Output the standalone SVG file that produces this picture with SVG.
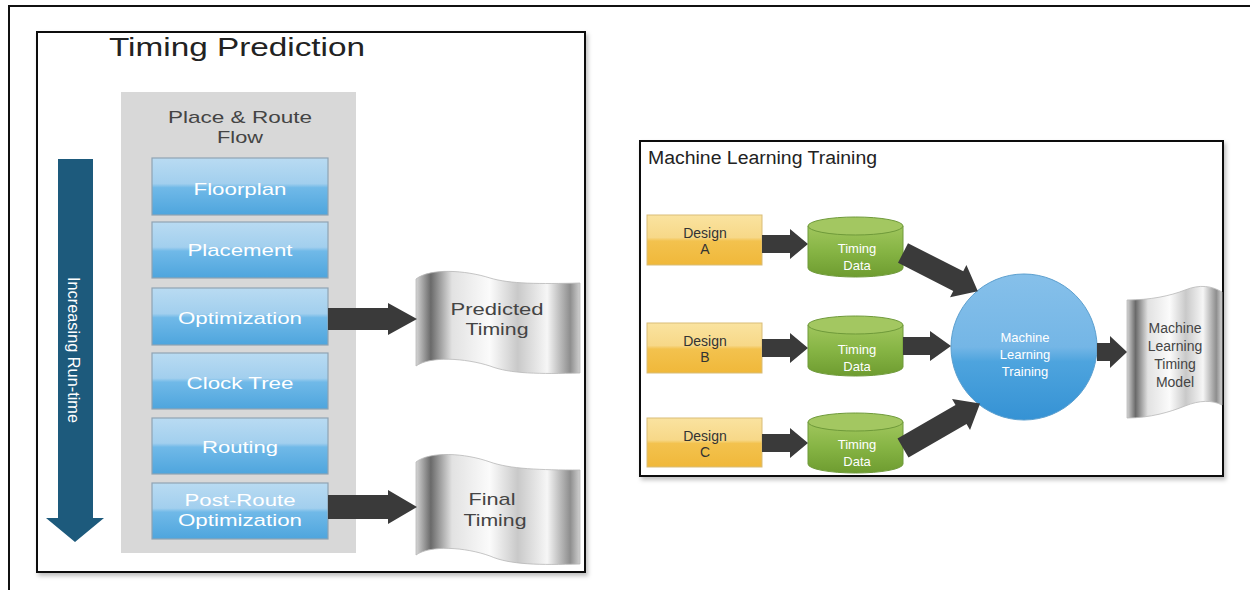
<svg xmlns="http://www.w3.org/2000/svg" width="1250" height="590" viewBox="0 0 1250 590">
<defs>
<style>
.t{font-family:"Liberation Sans",Arial,sans-serif}
.frame{fill:#fff;stroke:#111;stroke-width:2}
.step{fill:url(#gBlue);stroke:#8fa3b3;stroke-width:1.2}
.stepT{font-family:"Liberation Sans",Arial,sans-serif;font-size:17px;fill:#fff;text-anchor:middle}
.flag{fill:url(#gMetal);stroke:#b8b8b8;stroke-width:0.8}
.flagT{font-family:"Liberation Sans",Arial,sans-serif;fill:#444;text-anchor:middle}
.design{fill:url(#gYellow);stroke:#d9bd78;stroke-width:1}
.designT{font-family:"Liberation Sans",Arial,sans-serif;font-size:14px;fill:#333;text-anchor:middle}
.cylB{fill:url(#gGreen);stroke:#6f9a3a;stroke-width:1}
.cylT{fill:#a3c761;stroke:#6f9a3a;stroke-width:1}
.cylTxt{font-family:"Liberation Sans",Arial,sans-serif;font-size:13px;fill:#fff;text-anchor:middle}
.conn{fill:#3a3a3a}
</style>
<linearGradient id="gBlue" x1="0" y1="0" x2="0" y2="1">
<stop offset="0" stop-color="#b9dbf2"/>
<stop offset="0.45" stop-color="#a2cfee"/>
<stop offset="0.52" stop-color="#70b9e8"/>
<stop offset="1" stop-color="#4ea5dd"/>
</linearGradient>
<linearGradient id="gMetal" x1="0" y1="0" x2="1" y2="0">
<stop offset="0" stop-color="#d5d5d5"/>
<stop offset="0.09" stop-color="#6a6a6a"/>
<stop offset="0.22" stop-color="#e2e2e2"/>
<stop offset="0.45" stop-color="#fbfbfb"/>
<stop offset="0.62" stop-color="#c9c9c9"/>
<stop offset="0.8" stop-color="#f6f6f6"/>
<stop offset="0.94" stop-color="#8e8e8e"/>
<stop offset="1" stop-color="#cfcfcf"/>
</linearGradient>
<linearGradient id="gYellow" x1="0" y1="0" x2="0" y2="1">
<stop offset="0" stop-color="#fae3a0"/>
<stop offset="0.45" stop-color="#f7d888"/>
<stop offset="0.52" stop-color="#f3c24e"/>
<stop offset="1" stop-color="#f0b83a"/>
</linearGradient>
<linearGradient id="gGreen" x1="0" y1="0" x2="0" y2="1">
<stop offset="0" stop-color="#a0c65d"/>
<stop offset="0.5" stop-color="#86b444"/>
<stop offset="1" stop-color="#6e9c30"/>
</linearGradient>
<linearGradient id="gCircle" x1="0" y1="0" x2="0" y2="1">
<stop offset="0" stop-color="#86c0ea"/>
<stop offset="0.5" stop-color="#74b6e6"/>
<stop offset="0.6" stop-color="#4ea4de"/>
<stop offset="1" stop-color="#3592d4"/>
</linearGradient>
<filter id="sh" x="-5%" y="-5%" width="110%" height="110%">
<feDropShadow dx="2" dy="3" stdDeviation="2" flood-color="#000" flood-opacity="0.25"/>
</filter>
</defs>

<!-- outer frame -->
<g id="outer-frame">
<line x1="8" y1="6" x2="1250" y2="6" stroke="#111" stroke-width="2"/>
<line x1="9" y1="6" x2="9" y2="590" stroke="#111" stroke-width="2"/>
</g>

<!-- left panel -->
<g id="panel-timing-prediction">
<rect x="37" y="32" width="548" height="540" class="frame" filter="url(#sh)"/>
<text x="109" y="56" class="t" font-size="25" fill="#222" textLength="256" lengthAdjust="spacingAndGlyphs">Timing Prediction</text>
</g>

<g id="pr-flow">
<rect x="121" y="92" width="235" height="461" fill="#d8d8d8"/>
<text x="240" y="123" class="t" font-size="17" fill="#444" text-anchor="middle" textLength="144" lengthAdjust="spacingAndGlyphs">Place &amp; Route</text>
<text x="240" y="143" class="t" font-size="17" fill="#444" text-anchor="middle" textLength="46" lengthAdjust="spacingAndGlyphs">Flow</text>
</g>

<g id="runtime-arrow">
<polygon points="58,159 93,159 93,518 104,518 75,542 46,518 58,518" fill="#1d5a7c"/>
<text transform="translate(68,350) rotate(90)" class="t" font-size="17" fill="#fff" text-anchor="middle" textLength="146" lengthAdjust="spacingAndGlyphs">Increasing Run-time</text>
</g>

<g id="step-floorplan">
<rect x="152" y="158" width="176" height="57" class="step"/>
<text x="240" y="195" class="stepT" textLength="93" lengthAdjust="spacingAndGlyphs">Floorplan</text>
</g>
<g id="step-placement">
<rect x="152" y="222" width="176" height="56" class="step"/>
<text x="240" y="256" class="stepT" textLength="105" lengthAdjust="spacingAndGlyphs">Placement</text>
</g>
<g id="step-optimization">
<rect x="152" y="288" width="176" height="57" class="step"/>
<text x="240" y="324" class="stepT" textLength="124" lengthAdjust="spacingAndGlyphs">Optimization</text>
</g>
<g id="step-clock-tree">
<rect x="152" y="353" width="176" height="56" class="step"/>
<text x="240" y="389" class="stepT" textLength="107" lengthAdjust="spacingAndGlyphs">Clock Tree</text>
</g>
<g id="step-routing">
<rect x="152" y="418" width="176" height="56" class="step"/>
<text x="240" y="453" class="stepT" textLength="76" lengthAdjust="spacingAndGlyphs">Routing</text>
</g>
<g id="step-post-route">
<rect x="152" y="483" width="176" height="56" class="step"/>
<text x="240" y="506" class="stepT" textLength="111" lengthAdjust="spacingAndGlyphs">Post-Route</text>
<text x="240" y="526" class="stepT" textLength="124" lengthAdjust="spacingAndGlyphs">Optimization</text>
</g>

<g id="predicted-timing">
<path class="flag" d="M416,279 C430,268 465,270 490,278 C510,284 540,284 580,283 L580,373 C540,374 510,374 490,366 C465,358 430,356 416,366 Z"/>
<text x="497" y="315" class="flagT" font-size="17" textLength="93" lengthAdjust="spacingAndGlyphs">Predicted</text>
<text x="497" y="335" class="flagT" font-size="17" textLength="63" lengthAdjust="spacingAndGlyphs">Timing</text>
</g>
<g id="final-timing">
<path class="flag" d="M416,462 C430,451 465,453 490,462 C510,469 540,470 580,470 L580,564 C540,565 510,565 490,556 C465,547 430,545 416,555 Z"/>
<text x="492" y="505" class="flagT" font-size="17" textLength="47" lengthAdjust="spacingAndGlyphs">Final</text>
<text x="495" y="526" class="flagT" font-size="17" textLength="63" lengthAdjust="spacingAndGlyphs">Timing</text>
</g>

<!-- right panel -->
<g id="panel-ml-training">
<rect x="640" y="141" width="583" height="335" class="frame" filter="url(#sh)"/>
<text x="648" y="164" class="t" font-size="18" fill="#222" textLength="229" lengthAdjust="spacingAndGlyphs">Machine Learning Training</text>
</g>

<g id="design-a">
<rect x="647" y="215" width="115" height="50" class="design"/>
<text x="705" y="238" class="designT">Design</text>
<text x="705" y="254" class="designT">A</text>
</g>
<g id="design-b">
<rect x="647" y="323" width="115" height="50" class="design"/>
<text x="705" y="346" class="designT">Design</text>
<text x="705" y="362" class="designT">B</text>
</g>
<g id="design-c">
<rect x="647" y="418" width="115" height="49" class="design"/>
<text x="705" y="441" class="designT">Design</text>
<text x="705" y="457" class="designT">C</text>
</g>

<g id="data-a">
<path class="cylB" d="M808,226 L808,268 A47.5,9 0 0 0 903,268 L903,226 Z"/>
<ellipse cx="855.5" cy="226" rx="47.5" ry="9" class="cylT"/>
<text x="857" y="253" class="cylTxt">Timing</text>
<text x="857" y="270" class="cylTxt">Data</text>
</g>
<g id="data-b">
<path class="cylB" d="M808,325 L808,367 A47.5,9 0 0 0 903,367 L903,325 Z"/>
<ellipse cx="855.5" cy="325" rx="47.5" ry="9" class="cylT"/>
<text x="857" y="354" class="cylTxt">Timing</text>
<text x="857" y="371" class="cylTxt">Data</text>
</g>
<g id="data-c">
<path class="cylB" d="M808,422 L808,464 A47.5,9 0 0 0 903,464 L903,422 Z"/>
<ellipse cx="855.5" cy="422" rx="47.5" ry="9" class="cylT"/>
<text x="857" y="449" class="cylTxt">Timing</text>
<text x="857" y="466" class="cylTxt">Data</text>
</g>

<g id="ml-training">
<circle cx="1024" cy="347" r="73" fill="url(#gCircle)" stroke="#5b9fcf" stroke-width="1"/>
<text x="1025" y="342" class="cylTxt">Machine</text>
<text x="1025" y="359" class="cylTxt">Learning</text>
<text x="1025" y="376" class="cylTxt">Training</text>
</g>

<g id="ml-model">
<path class="flag" d="M1127,300 C1150,300 1170,296 1185,290 C1200,284 1212,286 1222,292 L1222,405 C1212,400 1200,400 1185,406 C1170,412 1150,418 1127,418 Z"/>
<text x="1175" y="333" class="flagT" font-size="14">Machine</text>
<text x="1175" y="351" class="flagT" font-size="14">Learning</text>
<text x="1175" y="369" class="flagT" font-size="14">Timing</text>
<text x="1175" y="387" class="flagT" font-size="14">Model</text>
</g>

<!-- connectors -->
<g id="connectors">
<polygon class="conn" points="328,308 388,308 388,303 417,319 388,335 388,330 328,330"/>
<polygon class="conn" points="328,495 388,495 388,490 417,507 388,524 388,519 328,519"/>
<polygon class="conn" points="762,235 790,235 790,229 808,244 790,259 790,253 762,253"/>
<polygon class="conn" points="762,339 790,339 790,333 808,348 790,363 790,357 762,357"/>
<polygon class="conn" points="762,434 790,434 790,428 808,443 790,458 790,452 762,452"/>
<polygon class="conn" points="903,337 930,337 930,331 951,346 930,361 930,355 903,355"/>
<polygon class="conn" points="1097,343 1110,343 1110,336 1127,352 1110,368 1110,361 1097,361"/>
<polygon class="conn" transform="translate(903,253) rotate(27)" points="0,-11 62,-11 62,-18 84,0 62,18 62,11 0,11"/>
<polygon class="conn" transform="translate(903,448) rotate(-30)" points="0,-11 67,-11 67,-18 89,0 67,18 67,11 0,11"/>
</g>
</svg>
